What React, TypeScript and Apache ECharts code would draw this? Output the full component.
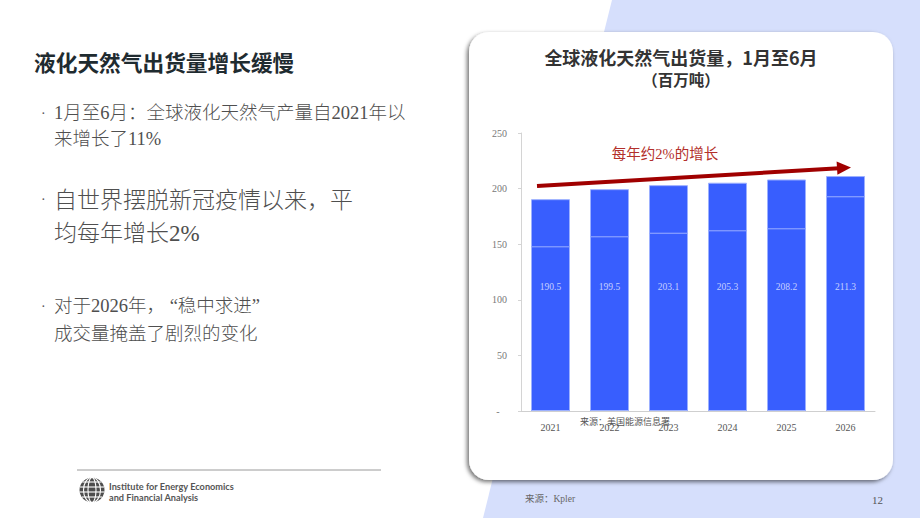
import React, { useEffect, useRef } from "react";
import * as echarts from "echarts";

const YEARS = ["2021", "2022", "2023", "2024", "2025", "2026"];
const TOTALS = [190.5, 199.5, 203.1, 205.3, 208.2, 211.3];
const LOWER_PART = [148.1, 157.1, 160.3, 162.5, 164.3, 193.1];
const Y_TICKS_MAX = 250;
const Y_INTERVAL = 50;

const SERIF_CJK = "'Liberation Serif', 'Noto Sans CJK SC', serif";
const SANS_CJK = "'Noto Sans CJK SC', 'Noto Sans', sans-serif";
const BAR_COLOR = "#385efe";
const BAR_BORDER = "#9cb0ff";

function txt(text: string, x: number, y: number, opts: any = {}) {
  return {
    type: "text",
    x,
    y,
    z: opts.z ?? 5,
    style: {
      text,
      fill: opts.fill ?? "#4d4d4d",
      fontSize: opts.fontSize ?? 16,
      fontWeight: opts.fontWeight ?? "normal",
      fontFamily: opts.fontFamily ?? SERIF_CJK,
      textAlign: opts.align ?? "left",
      textVerticalAlign: "middle",
    },
  };
}

export default function App() {
  const ref = useRef<HTMLDivElement>(null);

  useEffect(() => {
    if (!ref.current) return;
    const chart = echarts.init(ref.current, null, { renderer: "svg", width: 920, height: 518 });

    const globeCx = 92;
    const globeCy = 490;
    const R = 12.5;
    const globe: any[] = [
      { type: "circle", shape: { cx: globeCx, cy: globeCy, r: R }, style: { fill: "#4d4d4d" }, z: 5 },
      { type: "ellipse", shape: { cx: globeCx, cy: globeCy, rx: 4, ry: R }, style: { fill: "none", stroke: "#fff", lineWidth: 1.1 }, z: 6 },
      { type: "ellipse", shape: { cx: globeCx, cy: globeCy, rx: 8.5, ry: R }, style: { fill: "none", stroke: "#fff", lineWidth: 1.1 }, z: 6 },
    ];
    [-8, -3, 2, 7].forEach((dy) => {
      const hw = Math.sqrt(R * R - dy * dy);
      globe.push({
        type: "line",
        shape: { x1: globeCx - hw, y1: globeCy + dy, x2: globeCx + hw, y2: globeCy + dy },
        style: { stroke: "#fff", lineWidth: 1.1 },
        z: 6,
      });
    });

    const body = { fontSize: 18.5, fontWeight: 300, fill: "#4f4f4f" };
    const big = { fontSize: 23, fontWeight: 300, fill: "#4f4f4f" };

    const graphic: any[] = [
      {
        type: "polygon",
        shape: { points: [[612, 0], [920, 0], [920, 518], [483, 518]] },
        style: { fill: "#d6dffc" },
        z: -10,
        silent: true,
      },
      {
        type: "rect",
        shape: { x: 469, y: 32, width: 424, height: 448, r: 20 },
        style: {
          fill: "#ffffff",
          shadowBlur: 4,
          shadowOffsetX: -2,
          shadowOffsetY: 2,
          shadowColor: "rgba(0,0,0,0.55)",
        },
        z: -9,
        silent: true,
      },
      txt("液化天然气出货量增长缓慢", 34, 61, { fontSize: 21.7, fontWeight: "bold", fill: "#1f2b30", fontFamily: SANS_CJK }),
      txt("·", 41, 113, { fontSize: 14, fill: "#555" }),
      txt("1月至6月：全球液化天然气产量自2021年以", 54, 113, body),
      txt("来增长了11%", 54, 139, body),
      txt("·", 41, 199, { fontSize: 14, fill: "#555" }),
      txt("自世界摆脱新冠疫情以来，平", 54, 200, big),
      txt("均每年增长2%", 54, 233, big),
      txt("·", 41, 306, { fontSize: 14, fill: "#555" }),
      txt("对于2026年， “稳中求进”", 54, 306, body),
      txt("成交量掩盖了剧烈的变化", 54, 334, body),
      {
        type: "line",
        shape: { x1: 77, y1: 470, x2: 381, y2: 470 },
        style: { stroke: "#9a9a9a", lineWidth: 1 },
        z: 5,
      },
      ...globe,
      txt("Institute for Energy Economics", 109, 486, { fontSize: 9.2, fontWeight: "bold", fill: "#555", fontFamily: "Lato, sans-serif" }),
      txt("and Financial Analysis", 109, 497, { fontSize: 9.2, fontWeight: "bold", fill: "#555", fontFamily: "Lato, sans-serif" }),
      txt("来源：Kpler", 525, 499, { fontSize: 9.5, fill: "#666" }),
      txt("12", 883, 500, { fontSize: 11, fill: "#555", align: "right" }),
      txt("全球液化天然气出货量，1月至6月", 681, 57, { fontSize: 18, fontWeight: "bold", fill: "#333", fontFamily: SANS_CJK, align: "center" }),
      txt("（百万吨）", 681, 79, { fontSize: 15.5, fontWeight: "bold", fill: "#333", fontFamily: SANS_CJK, align: "center" }),
      txt("每年约2%的增长", 665, 154, { fontSize: 14.5, fill: "#b3302b", align: "center" }),
      {
        type: "line",
        shape: { x1: 537, y1: 186, x2: 839, y2: 168.3 },
        style: { stroke: "#a00000", lineWidth: 4 },
        z: 20,
      },
      {
        type: "polygon",
        shape: { points: [[851, 167.5], [837.4, 174.8], [836.6, 161.6]] },
        style: { fill: "#a00000" },
        z: 20,
      },
      txt("来源：美国能源信息署", 580, 422, { fontSize: 9, fill: "#555", z: 20 }),
    ];

    const barStyle = { color: BAR_COLOR, borderColor: BAR_BORDER, borderWidth: 1 };

    chart.setOption({
      animation: false,
      backgroundColor: "#ffffff",
      grid: { left: 521, right: 45, top: 133, bottom: 107, containLabel: false },
      xAxis: {
        type: "category",
        data: YEARS,
        axisLine: { show: true, lineStyle: { color: "#cfcfcf", width: 1 } },
        axisTick: { show: false },
        axisLabel: { color: "#555", fontSize: 10, fontFamily: SERIF_CJK, margin: 11 },
      },
      yAxis: {
        type: "value",
        min: 0,
        max: Y_TICKS_MAX,
        interval: Y_INTERVAL,
        axisLine: { show: true, lineStyle: { color: "#d4d4d4", width: 1 } },
        axisTick: { show: true, length: 3, lineStyle: { color: "#d4d4d4" } },
        splitLine: { show: false },
        axisLabel: {
          color: "#777",
          fontSize: 10,
          fontFamily: SERIF_CJK,
          margin: 14,
          formatter: (v: number) => (v === 0 ? "-   " : String(v)),
        },
      },
      series: [
        {
          type: "bar",
          data: TOTALS,
          barWidth: 39,
          itemStyle: barStyle,
          z: 2,
        },
        {
          type: "bar",
          data: LOWER_PART,
          barWidth: 39,
          barGap: "-100%",
          itemStyle: barStyle,
          z: 3,
          label: {
            show: true,
            position: "insideBottom",
            distance: 119,
            color: "#c6d0ff",
            fontSize: 9.5,
            fontFamily: SERIF_CJK,
            formatter: (p: any) => TOTALS[p.dataIndex].toFixed(1),
          },
        },
      ],
      graphic,
    });

    return () => chart.dispose();
  }, []);

  return (
    <div
      ref={ref}
      style={{ position: "fixed", left: 0, top: 0, width: 920, height: 518 }}
    />
  );
}
